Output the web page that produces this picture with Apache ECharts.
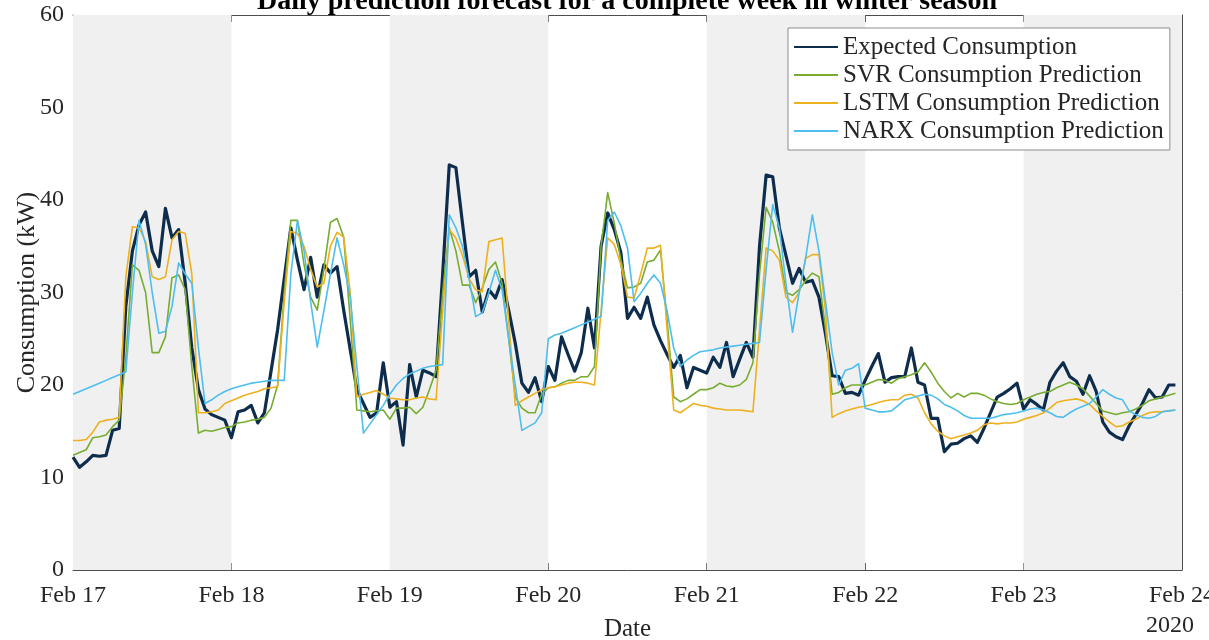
<!DOCTYPE html>
<html>
<head>
<meta charset="utf-8">
<title>Daily prediction forecast</title>
<script src="https://cdn.jsdelivr.net/npm/echarts@6/dist/echarts.min.js"></script>
<style>
  html, body { margin: 0; padding: 0; background: #ffffff; }
  #chart { width: 1209px; height: 640px; }
</style>
</head>
<body>
<div id="chart"></div>
<script>
// Hourly consumption, Feb 17 00:00 to Feb 23 23:00 (index = hours since Feb 17)
const tickLabels = ['Feb 17', 'Feb 18', 'Feb 19', 'Feb 20', 'Feb 21', 'Feb 22', 'Feb 23', 'Feb 24'];
const yearLabel = '2020';

const expected = [
  12.2, 11.1, 11.7, 12.4, 12.3, 12.4, 15.1, 15.3, 28.5, 34.5, 37.3, 38.7, 34.5, 32.8, 39.1, 35.9, 36.8, 31.0, 24.0, 19.5, 17.4, 16.8, 16.5, 16.2,
  14.3, 17.1, 17.3, 17.8, 15.9, 17.0, 21.5, 26.0, 31.5, 37.0, 33.5, 30.3, 33.8, 29.5, 33.0, 32.1, 32.8, 28.1, 23.8, 19.5, 18.0, 16.5, 17.0, 22.4,
  17.6, 18.2, 13.5, 22.2, 18.7, 21.6, 21.3, 20.9, 32.0, 43.8, 43.5, 37.5, 31.7, 32.4, 27.9, 30.3, 29.4, 31.4, 28.1, 24.5, 20.2, 19.2, 20.8, 18.2,
  22.0, 20.5, 25.2, 23.3, 21.5, 23.5, 28.3, 24.0, 35.0, 38.6, 36.8, 34.3, 27.2, 28.4, 27.2, 29.5, 26.5, 24.8, 23.3, 21.9, 23.2, 19.7, 21.9, 21.6,
  21.3, 23.0, 21.9, 24.6, 20.9, 22.8, 24.6, 23.0, 35.0, 42.7, 42.5, 37.0, 34.0, 31.0, 32.6, 31.1, 31.3, 29.5, 25.5, 21.0, 20.9, 19.1, 19.2, 18.9,
  20.5, 22.0, 23.4, 20.3, 20.8, 20.9, 20.9, 24.0, 20.3, 20.0, 16.4, 16.4, 12.8, 13.6, 13.7, 14.2, 14.5, 13.8, 15.3, 17.0, 18.7, 19.1, 19.6, 20.2,
  17.4, 18.4, 17.9, 17.3, 20.3, 21.5, 22.4, 20.9, 20.4, 19.0, 21.0, 19.3, 16.0, 14.9, 14.4, 14.1, 15.6, 16.8, 18.0, 19.5, 18.6, 18.7, 20.0, 20.0
];

const svr = [
  12.4, 12.7, 13.0, 14.3, 14.4, 14.6, 15.5, 16.2, 23.0, 33.0, 32.4, 30.0, 23.5, 23.5, 25.2, 31.6, 31.9, 30.3, 22.0, 14.8, 15.1, 15.0, 15.2, 15.4,
  15.5, 15.9, 16.0, 16.2, 16.3, 16.5, 17.5, 20.0, 30.0, 37.8, 37.8, 33.0, 29.5, 28.1, 32.5, 37.6, 38.0, 36.0, 27.0, 17.3, 17.2, 17.1, 17.2, 17.3,
  16.3, 17.5, 17.5, 17.6, 16.9, 17.6, 19.5, 21.6, 30.0, 37.0, 34.5, 30.8, 30.8, 28.9, 30.5, 32.5, 33.3, 31.0, 25.0, 18.7, 17.5, 17.0, 17.0, 19.0,
  19.7, 19.8, 20.2, 20.5, 20.5, 20.9, 20.9, 22.0, 35.0, 40.8, 37.5, 33.5, 30.5, 30.6, 31.0, 33.3, 33.5, 34.6, 27.0, 18.7, 18.2, 18.5, 19.0, 19.5,
  19.5, 19.7, 20.2, 19.9, 19.8, 20.0, 20.6, 22.4, 32.0, 39.2, 37.6, 34.5, 30.0, 29.7, 30.3, 31.3, 32.1, 31.7, 26.0, 19.0, 19.2, 19.7, 20.0, 20.0,
  20.0, 20.3, 20.6, 20.5, 20.2, 20.7, 20.9, 21.1, 21.4, 22.4, 21.4, 20.2, 19.3, 18.6, 19.1, 18.7, 19.1, 19.1, 18.9, 18.5, 18.2, 18.0, 17.9, 18.0,
  18.4, 18.7, 19.0, 19.2, 19.3, 19.7, 20.0, 20.3, 20.0, 19.6, 18.8, 18.0, 17.2, 17.0, 16.8, 17.0, 17.1, 17.4, 17.8, 18.3, 18.5, 18.7, 18.9, 19.1
];

const lstm = [
  14.0, 14.0, 14.1, 14.9, 16.0, 16.2, 16.3, 16.5, 31.7, 37.1, 37.0, 35.5, 31.7, 31.4, 31.7, 35.7, 36.6, 36.4, 32.0, 17.0, 17.0, 17.1, 17.3, 18.0,
  18.3, 18.6, 18.9, 19.1, 19.3, 19.6, 19.7, 19.8, 29.0, 36.6, 36.4, 35.0, 32.5, 30.6, 31.0, 35.0, 36.5, 36.0, 30.0, 18.7, 19.0, 19.2, 19.4, 19.0,
  18.6, 18.5, 18.4, 18.4, 18.6, 18.7, 18.5, 18.4, 28.0, 36.8, 35.9, 34.0, 31.5, 30.3, 30.1, 35.5, 35.7, 35.9, 27.0, 17.8, 18.3, 18.7, 19.1, 19.5,
  19.7, 19.8, 20.0, 20.2, 20.3, 20.3, 20.2, 20.0, 28.0, 35.9, 35.2, 33.0, 29.5, 29.4, 32.0, 34.8, 34.8, 35.1, 26.0, 17.3, 17.0, 17.5, 18.0, 17.8,
  17.7, 17.5, 17.4, 17.3, 17.3, 17.3, 17.2, 17.1, 26.0, 34.8, 34.5, 33.5, 29.5, 28.9, 30.0, 33.7, 34.1, 34.1, 28.0, 16.5, 16.9, 17.2, 17.4, 17.6,
  17.7, 17.9, 18.1, 18.3, 18.4, 18.4, 18.9, 19.0, 18.6, 17.0, 15.8, 15.0, 14.5, 14.2, 14.4, 14.6, 14.8, 15.1, 15.7, 15.9, 15.8, 15.9, 15.9, 16.0,
  16.3, 16.5, 16.7, 17.0, 17.5, 18.1, 18.3, 18.4, 18.5, 18.3, 17.9, 17.2, 16.6, 16.0, 15.5, 15.6, 16.0, 16.3, 16.7, 17.0, 17.1, 17.1, 17.2, 17.3
];

const narx = [
  19.0, 19.3, 19.6, 19.9, 20.2, 20.5, 20.8, 21.1, 21.4, 30.0, 37.8, 35.2, 30.0, 25.6, 25.8, 28.5, 33.2, 32.0, 31.0, 24.0, 18.0, 18.4, 18.9, 19.3,
  19.6, 19.8, 20.0, 20.2, 20.3, 20.4, 20.5, 20.5, 20.5, 32.0, 37.8, 34.5, 29.0, 24.1, 28.0, 32.0, 35.9, 33.0, 29.5, 22.0, 14.8, 15.8, 16.8, 17.8,
  19.0, 20.0, 20.7, 21.2, 21.5, 21.8, 22.0, 22.1, 22.2, 38.4, 37.0, 35.0, 31.5, 27.4, 27.8, 30.0, 32.4, 30.3, 25.0, 20.0, 15.1, 15.5, 15.9, 17.0,
  25.0, 25.4, 25.6, 25.9, 26.2, 26.5, 26.8, 27.1, 27.4, 37.8, 38.7, 37.2, 34.8, 29.0, 29.9, 31.0, 31.9, 31.0, 28.0, 24.0, 22.0, 22.7, 23.2, 23.6,
  23.7, 23.8, 24.0, 24.1, 24.2, 24.3, 24.4, 24.5, 24.6, 32.5, 39.5, 37.0, 31.0, 25.7, 30.0, 33.8, 38.4, 34.5, 29.0, 23.5, 20.0, 21.6, 21.8, 22.3,
  17.5, 17.3, 17.1, 17.1, 17.2, 17.8, 18.4, 18.6, 18.8, 19.0, 18.9, 18.5, 17.9, 17.6, 17.2, 16.7, 16.4, 16.4, 16.4, 16.4, 16.6, 16.8, 16.9, 17.0,
  17.2, 17.4, 17.5, 17.3, 17.0, 16.6, 16.5, 17.0, 17.4, 17.7, 18.0, 18.7, 19.5, 19.0, 18.6, 18.4, 17.2, 16.8, 16.5, 16.4, 16.6, 17.1, 17.2, 17.3
];

const seriesNames = [
  'Expected Consumption',
  'SVR Consumption Prediction',
  'LSTM Consumption Prediction',
  'NARX Consumption Prediction'
];

const HOURS_PER_DAY = 24;
const FONT = '"Liberation Serif", "Times New Roman", serif';
const INK = '#262626';
const AXIS = '#4d4d4d';

const toPoints = arr => arr.map((v, i) => [i, v]);

// alternate days get a light grey background band
const bands = [];
for (let d = 0; d < tickLabels.length - 1; d += 2) {
  bands.push([{ xAxis: d * HOURS_PER_DAY }, { xAxis: (d + 1) * HOURS_PER_DAY }]);
}

const xMax = (tickLabels.length - 1) * HOURS_PER_DAY;

const chart = echarts.init(document.getElementById('chart'), null, { renderer: 'canvas' });

const lineSeries = (name, data, color, width) => ({
  name: name,
  type: 'line',
  data: toPoints(data),
  symbol: 'none',
  showSymbol: false,
  smooth: false,
  lineStyle: { color: color, width: width, join: 'round' },
  itemStyle: { color: color },
  z: 3,
  animation: false
});

const boxAxis = {
  axisLine: { show: true, onZero: false, lineStyle: { color: AXIS, width: 1 } },
  axisTick: { show: true, inside: true, length: 7, lineStyle: { color: AXIS } },
  splitLine: { show: false }
};

chart.setOption({
  animation: false,
  backgroundColor: '#ffffff',
  title: {
    text: 'Daily prediction forecast for a complete week in winter season',
    left: 252,
    top: -17,
    textStyle: { fontFamily: FONT, fontWeight: 'bold', fontSize: 28, color: '#000000' }
  },
  grid: { left: 73, right: 27, top: 15, bottom: 70, outerBoundsMode: 'none' },
  legend: {
    data: seriesNames,
    orient: 'vertical',
    left: 788,
    top: 28,
    padding: [5, 6, 5, 5],
    itemGap: 0,
    itemWidth: 44,
    itemHeight: 14,
    itemStyle: { opacity: 0 },
    backgroundColor: '#ffffff',
    borderColor: '#8c8c8c',
    borderWidth: 1,
    borderRadius: 0,
    textStyle: { fontFamily: FONT, fontSize: 25, color: INK, lineHeight: 28 }
  },
  xAxis: [
    Object.assign({
      type: 'value',
      position: 'bottom',
      min: 0,
      max: xMax,
      interval: HOURS_PER_DAY,
      name: 'Date',
      nameLocation: 'middle',
      nameGap: 47,
      nameMoveOverlap: false,
      nameTextStyle: { fontFamily: FONT, fontSize: 25, color: INK },
      axisLabel: {
        fontFamily: FONT, fontSize: 24, color: INK, margin: 14,
        formatter: v => tickLabels[Math.round(v / HOURS_PER_DAY)] || ''
      }
    }, boxAxis),
    Object.assign({
      type: 'value',
      position: 'top',
      min: 0,
      max: xMax,
      interval: HOURS_PER_DAY,
      axisLabel: { show: false }
    }, boxAxis)
  ],
  yAxis: [
    Object.assign({
      type: 'value',
      position: 'left',
      min: 0,
      max: 60,
      interval: 10,
      name: 'Consumption (kW)',
      nameLocation: 'middle',
      nameGap: 33,
      nameMoveOverlap: false,
      nameRotate: 90,
      nameTextStyle: { fontFamily: FONT, fontSize: 26, color: INK },
      axisLabel: { fontFamily: FONT, fontSize: 24, color: INK, margin: 9 }
    }, boxAxis),
    Object.assign({
      type: 'value',
      position: 'right',
      min: 0,
      max: 60,
      interval: 10,
      axisLabel: { show: false }
    }, boxAxis)
  ],
  graphic: [
    {
      type: 'text',
      left: 1146,
      top: 614,
      style: { text: yearLabel, font: '24px ' + FONT, fill: INK }
    }
  ],
  series: [
    {
      name: 'day-bands',
      type: 'line',
      data: [],
      silent: true,
      z: 1,
      markArea: {
        silent: true,
        itemStyle: { color: '#f0f0f0' },
        data: bands
      }
    },
    lineSeries(seriesNames[0], expected, '#0e2d4d', 3.2),
    lineSeries(seriesNames[1], svr, '#77ac30', 1.6),
    lineSeries(seriesNames[2], lstm, '#edb120', 1.6),
    lineSeries(seriesNames[3], narx, '#4dbeee', 1.6)
  ]
});
</script>
</body>
</html>
